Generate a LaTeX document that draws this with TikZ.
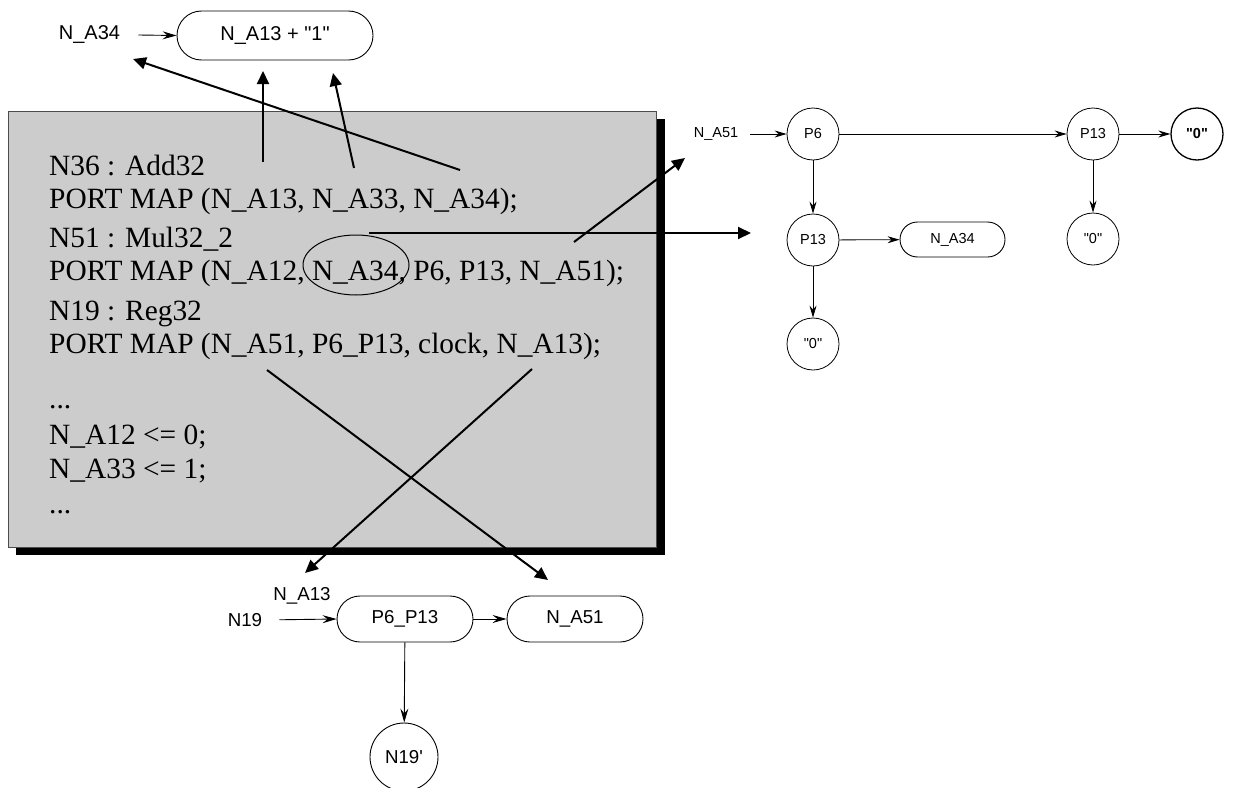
\documentclass[tikz,border=0pt]{standalone}
\usepackage{fontspec}
\setmainfont{Liberation Serif}
\newfontfamily\arialfont[Ligatures=TeXOff]{Liberation Sans}
\usetikzlibrary{arrows.meta,shapes.geometric}
\definecolor{boxgray}{gray}{0.8}
\definecolor{boxedge}{gray}{0.3}
\begin{document}
\begin{tikzpicture}[x=1pt,y=-1pt,
  conn/.style={line width=0.9pt,-{Stealth[length=14pt,width=8pt,inset=5pt]}},
  smallconn/.style={line width=0.8pt,-{Stealth[length=12pt,width=7pt,inset=4pt]}},
  bigarrow/.style={line width=2pt,-{Triangle[length=13pt,width=12pt]}},
  fontA/.style={font=\arialfont\fontsize{20}{22}\selectfont},
  fontB/.style={font=\arialfont\fontsize{18.7}{21}\selectfont},
  fontC/.style={font=\arialfont\fontsize{14.5}{16}\selectfont},
  lbl/.style={inner sep=0pt},
  circ/.style={circle,draw,line width=0.8pt,minimum size=52pt,inner sep=0pt,fontC},
  pill/.style={rectangle,draw,line width=0.9pt,inner sep=0pt},
  codeline/.style={anchor=base west,inner sep=0pt,font=\fontsize{29.4}{32}\selectfont}
]
\clip (0,0) rectangle (1233,787);
\fill[white] (0,0) rectangle (1233,787);

% ---- code box ----
\fill[black] (16,119) rectangle (665,555);
\filldraw[fill=boxgray,draw=boxedge,line width=1pt] (8,111) rectangle (656,547);

\node[codeline] (l1)  at (49,175) {N36 : Add32};
\node[codeline] (l2)  at (49,208) {PORT MAP (N\_A13, N\_A33, N\_A34);};
\node[codeline] (l3)  at (49,247) {N51 : Mul32\_2};
\node[codeline] (l4)  at (49,280) {PORT MAP (N\_A12, N\_A34, P6, P13, N\_A51);};
\node[codeline] (l5)  at (49,320) {N19 : Reg32};
\node[codeline] (l6)  at (49,353) {PORT MAP (N\_A51, P6\_P13, clock, N\_A13);};
\node[codeline] (l7)  at (49,408) {...};
\node[codeline] (l8)  at (49,444) {N\_A12 <= 0;};
\node[codeline] (l9)  at (49,478) {N\_A33 <= 1;};
\node[codeline] (l10) at (49,513) {...};
\node[ellipse,draw,line width=1pt,minimum width=106pt,minimum height=60pt,inner sep=0pt] (oval) at (356,265) {};

% ---- top graph ----
\node[lbl,fontA] (tna34) at (89.5,35) {N\_A34};
\node[pill,fontA,minimum width=196pt,minimum height=49pt,rounded corners=24.5pt] (sum) at (275,35.5) {N\_A13 + "1"};
\draw[conn] (tna34.east) ++(18,0) coordinate (tstart) -- (sum.west);

% ---- right graph ----
\node[lbl,fontC] (rna51) at (716,134) {N\_A51};
\node[circ] (p6) at (813,134) {P6};
\node[circ] (p13a) at (1093,134) {P13};
\node[circ,line width=1.3pt,font=\arialfont\bfseries\fontsize{14.5}{16}\selectfont] (z1) at (1197,134) {"0"};
\node[circ] (p13b) at (813,240) {P13};
\node[pill,fontC,minimum width=105pt,minimum height=35pt,rounded corners=17.5pt] (rna34) at (952.5,239.5) {N\_A34};
\node[circ] (z2) at (813,344) {"0"};
\node[circ] (z3) at (1093,239) {"0"};
\draw[smallconn,shorten <=12pt] (rna51.east) -- (p6.west);
\draw[smallconn] (p6) -- (p13a);
\draw[smallconn] (p13a) -- (z1);
\draw[smallconn] (p6) -- (p13b);
\draw[smallconn] (p13b) -- (rna34);
\draw[smallconn] (p13b) -- (z2);
\draw[smallconn] (p13a) -- (z3);

% ---- bottom graph ----
\node[lbl,fontB] (n19) at (245,620) {N19};
\node[lbl,fontB] (bna13) at (302,596) {N\_A13};
\node[pill,fontB,minimum width=136pt,minimum height=46pt,rounded corners=23pt] (p6p13) at (405,619) {P6\_P13};
\node[pill,fontB,minimum width=136pt,minimum height=46pt,rounded corners=23pt] (bna51) at (575,619) {N\_A51};
\node[circle,draw,line width=0.9pt,minimum size=68pt,inner sep=0pt,fontB] (n19p) at (404,757) {N19'};
\draw[conn,shorten <=17pt] (n19.east) -- (p6p13.west);
\draw[conn] (p6p13) -- (bna51);
\draw[conn] (p6p13) -- (n19p);

% ---- big arrows ----
\coordinate (s1) at (263,162); \coordinate (e1) at (263,71);
\coordinate (s2) at (354,168); \coordinate (e2) at (333,73);
\coordinate (s3) at (460,170); \coordinate (e3) at (133,59);
\coordinate (s4) at (369,233); \coordinate (e4) at (751,233);
\coordinate (s5) at (574,242); \coordinate (e5) at (685,158);
\coordinate (s6) at (532,369); \coordinate (e6) at (305,573);
\coordinate (s7) at (267,370); \coordinate (e7) at (548,580);
\draw[bigarrow] (s1) -- (e1);
\draw[bigarrow] (s2) -- (e2);
\draw[bigarrow] (s3) -- (e3);
\draw[bigarrow] (s4) -- (e4);
\draw[bigarrow] (s5) -- (e5);
\draw[bigarrow] (s6) -- (e6);
\draw[bigarrow] (s7) -- (e7);
\end{tikzpicture}
\end{document}
